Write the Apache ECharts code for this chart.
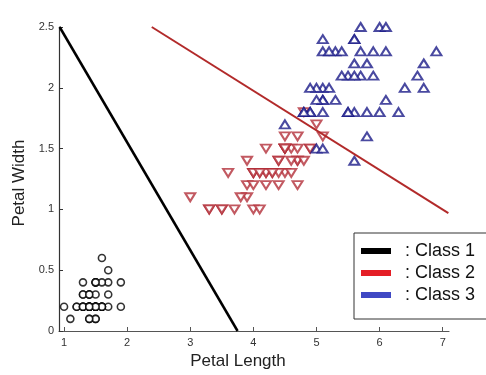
<!DOCTYPE html>
<html>
<head>
<meta charset="utf-8">
<script src="https://cdn.jsdelivr.net/npm/echarts@6/dist/echarts.min.js"></script>
<style>html,body{margin:0;padding:0;background:#fff}#c{width:486px;height:375px}</style>
</head>
<body>
<div id="c"></div>
<script>
// Class 1 (petal length, petal width)
var class1Points = [[1.4,0.2],[1.4,0.2],[1.3,0.2],[1.5,0.2],[1.4,0.2],[1.7,0.4],[1.4,0.3],[1.5,0.2],[1.4,0.2],[1.5,0.1],
 [1.5,0.2],[1.6,0.2],[1.4,0.1],[1.1,0.1],[1.2,0.2],[1.5,0.4],[1.3,0.4],[1.4,0.3],[1.7,0.3],[1.5,0.3],
 [1.7,0.2],[1.5,0.4],[1.0,0.2],[1.7,0.5],[1.9,0.2],[1.6,0.2],[1.6,0.4],[1.5,0.2],[1.4,0.2],[1.6,0.2],
 [1.6,0.2],[1.5,0.4],[1.5,0.1],[1.4,0.2],[1.5,0.2],[1.2,0.2],[1.3,0.2],[1.4,0.1],[1.3,0.2],[1.5,0.2],
 [1.3,0.3],[1.3,0.3],[1.3,0.2],[1.6,0.6],[1.9,0.4],[1.4,0.3],[1.6,0.2],[1.4,0.2],[1.5,0.2],[1.4,0.2]];
// Class 2
var class2Points = [[4.7,1.4],[4.5,1.5],[4.9,1.5],[4.0,1.3],[4.6,1.5],[4.5,1.3],[4.7,1.6],[3.3,1.0],[4.6,1.3],[3.9,1.4],
 [3.5,1.0],[4.2,1.5],[4.0,1.0],[4.7,1.4],[3.6,1.3],[4.4,1.4],[4.5,1.5],[4.1,1.0],[4.5,1.5],[3.9,1.1],
 [4.8,1.8],[4.0,1.3],[4.9,1.5],[4.7,1.2],[4.3,1.3],[4.4,1.4],[4.8,1.4],[5.0,1.7],[4.5,1.5],[3.5,1.0],
 [3.8,1.1],[3.7,1.0],[3.9,1.2],[5.1,1.6],[4.5,1.5],[4.5,1.6],[4.7,1.5],[4.4,1.3],[4.1,1.3],[4.0,1.3],
 [4.4,1.2],[4.6,1.4],[4.0,1.2],[3.3,1.0],[4.2,1.3],[4.2,1.2],[4.2,1.3],[4.3,1.3],[3.0,1.1],[4.1,1.3]];
// Class 3
var class3Points = [[6.0,2.5],[5.1,1.9],[5.9,2.1],[5.6,1.8],[5.8,2.2],[6.6,2.1],[4.5,1.7],[6.3,1.8],[5.8,1.8],[6.1,2.5],
 [5.1,2.0],[5.3,1.9],[5.5,2.1],[5.0,2.0],[5.1,2.4],[5.3,2.3],[5.5,1.8],[6.7,2.2],[6.9,2.3],[5.0,1.5],
 [5.7,2.3],[4.9,2.0],[6.7,2.0],[4.9,1.8],[5.7,2.1],[6.0,1.8],[4.8,1.8],[4.9,1.8],[5.6,2.1],[5.8,1.6],
 [6.1,1.9],[6.4,2.0],[5.6,2.2],[5.1,1.5],[5.6,1.4],[6.1,2.3],[5.6,2.4],[5.5,1.8],[4.8,1.8],[5.4,2.1],
 [5.6,2.4],[5.1,2.3],[5.1,1.9],[5.9,2.3],[5.7,2.5],[5.2,2.3],[5.0,1.9],[5.2,2.0],[5.4,2.3],[5.1,1.8]];
// Decision boundary lines (endpoints)
var line1Points = [[0.93,2.5],[3.75,0]];
var line2Points = [[2.39,2.5],[7.09,0.97]];
// Axis ticks
var xTicks = [1,2,3,4,5,6,7];
var legendNames = [': Class 1', ': Class 2', ': Class 3'];

var font = 'Liberation Sans, Arial, sans-serif';
var chart = echarts.init(document.getElementById('c'), null, {renderer:'canvas'});
chart.setOption({
  animation:false,
  backgroundColor:'#fff',
  grid:{left:59, right:37, top:27, bottom:40},
  xAxis:{
    type:'value', min:0.92, max:7.1,
    name:'Petal Length', nameLocation:'middle', nameGap:22,
    nameTextStyle:{fontFamily:font, fontSize:17, color:'#222', padding:[0,32,0,0]},
    axisLine:{lineStyle:{color:'#555', width:1.2}},
    axisTick:{inside:true, length:4, customValues:xTicks, lineStyle:{color:'#555'}},
    axisLabel:{customValues:xTicks, fontFamily:font, fontSize:11, color:'#333', margin:6},
    splitLine:{show:false}
  },
  yAxis:{
    type:'value', min:0, max:2.5, interval:0.5,
    name:'Petal Width', nameLocation:'middle', nameGap:28, nameRotate:90,
    nameTextStyle:{fontFamily:font, fontSize:17, color:'#222', padding:[0,8,0,0]},
    axisLine:{show:true, lineStyle:{color:'#333', width:1.2}},
    axisTick:{inside:true, length:4, lineStyle:{color:'#333'}},
    axisLabel:{fontFamily:font, fontSize:11, color:'#333', margin:5},
    splitLine:{show:false}
  },
  legend:{
    data:legendNames, orient:'vertical', left:354, top:233,
    padding:[9,60,15,7], itemGap:4, itemWidth:30, itemHeight:6, icon:'rect',
    borderColor:'#333', borderWidth:1, backgroundColor:'#fff',
    textStyle:{fontFamily:font, fontSize:18, color:'#111', lineHeight:18, padding:[0,0,0,9]}
  },
  series:[
    {type:'line', data:line1Points, symbol:'none', lineStyle:{color:'#000', width:2.5}, z:3},
    {type:'line', data:line2Points, symbol:'none', lineStyle:{color:'#b22a2a', width:2}, z:3},
    {type:'scatter', data:class1Points, symbol:'circle', symbolSize:7,
      itemStyle:{color:'#fff', borderColor:'#000', borderWidth:1.6}, z:2},
    {type:'scatter', data:class2Points, symbol:'triangle', symbolRotate:180, symbolSize:[10,8],
      itemStyle:{color:'#fff', borderColor:'#b3303a', borderWidth:2}, z:2},
    {type:'scatter', data:class3Points, symbol:'triangle', symbolSize:[10,8],
      itemStyle:{color:'#fff', borderColor:'#1c1c88', borderWidth:2}, z:2},
    {type:'line', name:legendNames[0], data:[], color:'#000'},
    {type:'line', name:legendNames[1], data:[], color:'#e41e26'},
    {type:'line', name:legendNames[2], data:[], color:'#3f48c4'}
  ]
});
</script>
</body>
</html>
